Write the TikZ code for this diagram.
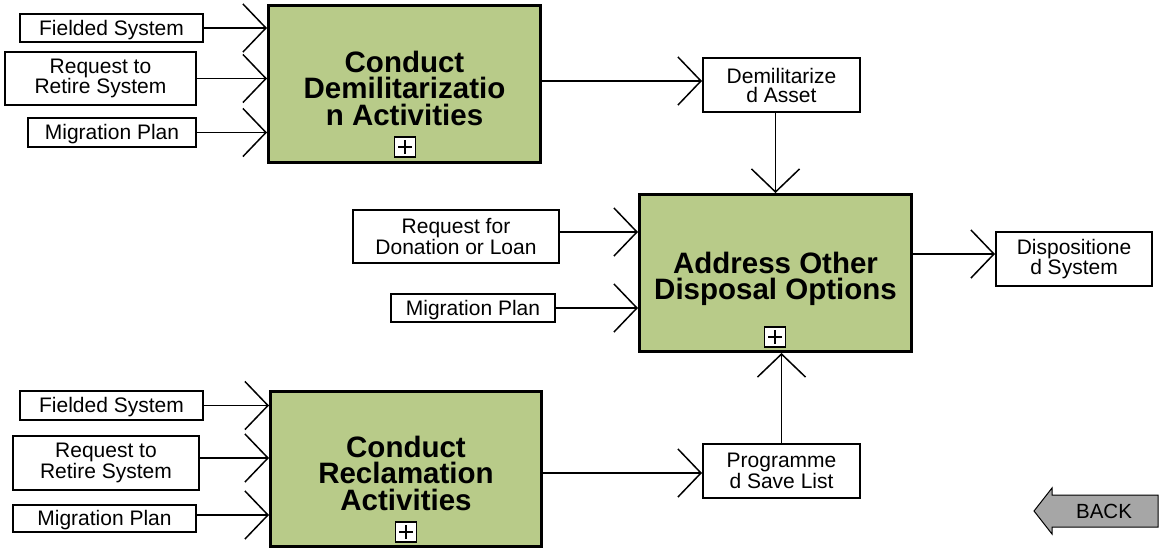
\documentclass[tikz,border=0pt]{standalone}
\usepackage{fontspec}
\setmainfont{Liberation Sans}
\usetikzlibrary{arrows.meta}
\definecolor{actgreen}{RGB}{184,203,137}
\definecolor{backgray}{RGB}{166,166,166}
\begin{document}
\begin{tikzpicture}[x=1pt,y=-1pt,
 iobox/.style={draw, line width=2pt, fill=white, inner sep=0pt, align=center, font=\fontsize{21}{19}\selectfont},
 iosingle/.style={iobox, text height=19.3pt, text depth=4.4pt},
 actbox/.style={draw, line width=3pt, fill=actgreen, inner sep=0pt},
 acttext/.style={inner sep=0pt, align=center, font=\bfseries\fontsize{29.5}{26.5}\selectfont},
 plusbox/.style={draw, line width=1.5pt, fill=white, minimum width=21pt, minimum height=20pt, inner sep=0pt},
 plussign/.style={line width=1.5pt},
 flow/.style={line width=1.5pt, -{Straight Barb[length=23pt,width=48pt]}},
 backarrow/.style={draw, line width=1pt, fill=backgray},
 backtext/.style={font=\fontsize{20.5}{19}\selectfont, inner sep=0pt}]
\useasboundingbox (0,0) rectangle (1161,550);

% activity boxes
\node[actbox, minimum width=272pt, minimum height=157pt] (boxA) at (404.5,84) {};
\node[acttext] (boxAtext) at ([yshift=-4pt]boxA.center) {Conduct\\Demilitarizatio\\n Activities};
\node[actbox, minimum width=272pt, minimum height=157pt] (boxB) at (775.5,273) {};
\node[acttext] (boxBtext) at ([yshift=-6pt]boxB.center) {Address Other\\Disposal Options};
\node[actbox, minimum width=271pt, minimum height=155pt] (boxC) at (406,469) {};
\node[acttext] (boxCtext) at ([yshift=-4pt]boxC.center) {Conduct\\Reclamation\\Activities};

% plus boxes
\foreach \n/\p in {plusA/{(405,147)}, plusB/{(775,337)}, plusC/{(406,532)}}{
  \node[plusbox] (\n) at \p {};
  \draw[plussign] ([xshift=-7pt]\n.center) -- ([xshift=7pt]\n.center)
                  ([yshift=-7pt]\n.center) -- ([yshift=7pt]\n.center);
}

% inputs of A
\node[iosingle, minimum width=183pt, minimum height=28pt] (a1) at (111.5,28) {Fielded System};
\node[iobox, minimum width=191pt, minimum height=53pt] (a2) at (100.5,78.5) {Request to\\Retire System};
\node[iosingle, minimum width=168pt, minimum height=29pt] (a3) at (112,132.5) {Migration Plan};

% outputs
\node[iobox, minimum width=157pt, minimum height=54pt] (demil) at (781.5,85) {Demilitarize\\d Asset};
\node[iobox, minimum width=156pt, minimum height=54pt, font=\fontsize{21}{18}\selectfont] (dispo) at (1074,259) {Dispositione\\d System};
\node[iobox, minimum width=157pt, minimum height=54pt, font=\fontsize{21}{18.5}\selectfont] (prog) at (781.5,471) {Programme\\d Save List};

% inputs of B
\node[iobox, minimum width=206pt, minimum height=53pt] (b1) at (456,236.5) {Request for\\Donation or Loan};
\node[iosingle, minimum width=164pt, minimum height=28pt] (b2) at (473,308) {Migration Plan};

% inputs of C
\node[iosingle, minimum width=183pt, minimum height=29pt] (c1) at (111.5,405.5) {Fielded System};
\node[iobox, minimum width=186pt, minimum height=54pt] (c2) at (106,463) {Request to\\Retire System};
\node[iosingle, minimum width=183pt, minimum height=27pt] (c3) at (104.5,518.5) {Migration Plan};

% connectors into A
\draw[flow] (a1.east) -- (a1.east -| boxA.west);
\draw[flow] (a2.east) -- (a2.east -| boxA.west);
\draw[flow] (a3.east) -- (a3.east -| boxA.west);

% A -> demil
\coordinate (demilIn) at ([yshift=4pt]demil.west);
\draw[flow] (boxA.east |- demilIn) -- (demilIn);
% demil -> B
\draw[flow] (boxB.north |- demil.south) -- (boxB.north);

% inputs into B
\coordinate (b1Out) at ([yshift=4.5pt]b1.east);
\draw[flow] (b1Out) -- (b1Out -| boxB.west);
\draw[flow] (b2.east) -- (b2.east -| boxB.west);

% B -> dispo
\coordinate (dispoIn) at ([yshift=5pt]dispo.west);
\draw[flow] (boxB.east |- dispoIn) -- (dispoIn);

% inputs into C
\draw[flow] (c1.east) -- (c1.east -| boxC.west);
\coordinate (c2Out) at ([yshift=5pt]c2.east);
\draw[flow] (c2Out) -- (c2Out -| boxC.west);
\coordinate (c3Out) at ([yshift=3.5pt]c3.east);
\draw[flow] (c3Out) -- (c3Out -| boxC.west);

% C -> prog
\coordinate (progIn) at ([yshift=-2pt]prog.west);
\draw[flow] (boxC.east |- progIn) -- (progIn);
% prog -> B
\draw[flow] (prog.north) -- (prog.north |- boxB.south);

% BACK button
\draw[backarrow] (1034,511) -- (1052,488) -- (1052,495) -- (1158,495) -- (1158,527) -- (1052,527) -- (1052,534) -- cycle;
\node[backtext] (back) at (1104,511) {BACK};
\end{tikzpicture}
\end{document}
